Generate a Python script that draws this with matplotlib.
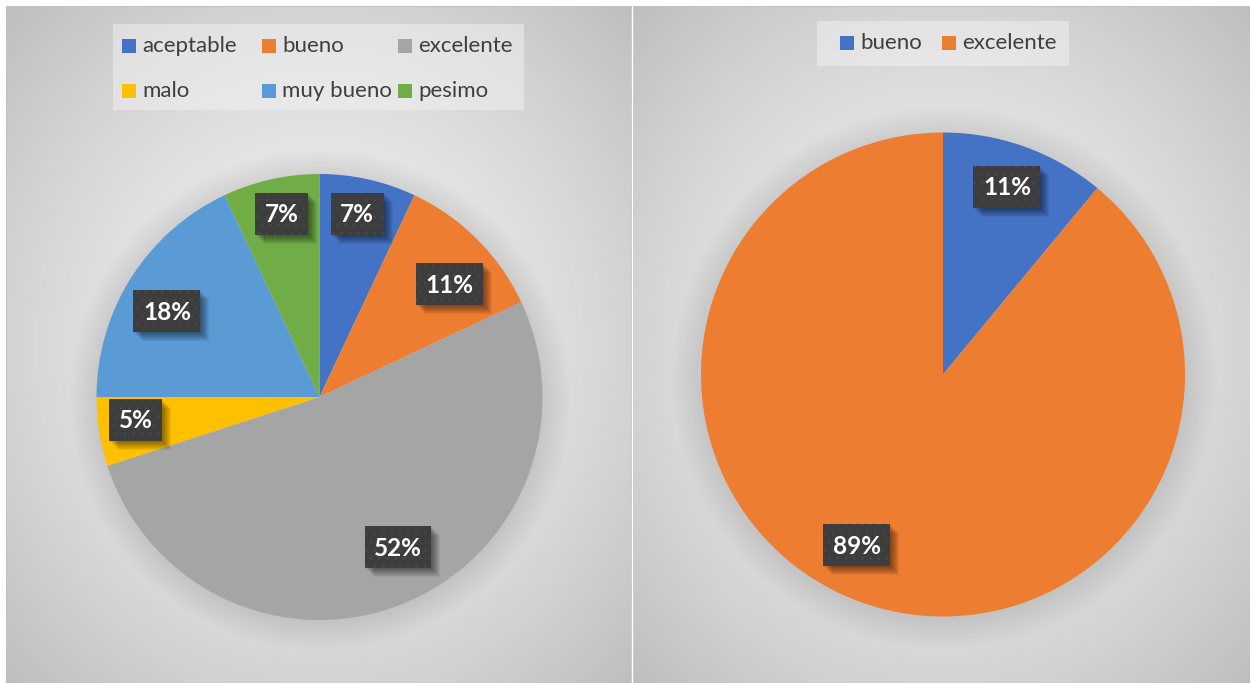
import numpy as np
import matplotlib
matplotlib.use("Agg")
import matplotlib.pyplot as plt
from matplotlib.patches import Rectangle, Circle
from matplotlib import transforms

W, H = 1250, 683
DPI = 100

# --- data -------------------------------------------------------------
left_categories = ["aceptable", "bueno", "excelente", "malo", "muy bueno", "pesimo"]
left_values = [7, 11, 52, 5, 18, 7]
right_categories = ["bueno", "excelente"]
right_values = [11, 89]

# --- style ------------------------------------------------------------
left_colors = ["#4472C4", "#ED7D31", "#A5A5A5", "#FFC000", "#5B9BD5", "#70AD47"]
right_colors = ["#4472C4", "#ED7D31"]
# radial position of each value label (fraction of radius) and angular nudge (deg)
left_label_r = [0.84, 0.77, 0.76, 0.83, 0.785, 0.84]
left_label_dt = [1, -4, 6, -2, 3, -1]
right_label_r = [0.82, 0.79]
right_label_dt = [1, -7]

LABEL_FS = 17.5
plt.rcParams['font.family'] = ['Lato', 'DejaVu Sans']
plt.rcParams['hatch.linewidth'] = 0.6

fig = plt.figure(figsize=(W / DPI, H / DPI), dpi=DPI)

# --- panel backgrounds with radial gradient ----------------------------
bg = np.ones((H, W, 3))
yy, xx = np.mgrid[0:H, 0:W]


def shade_panel(x0, x1, y0, y1):
    cx, cy = (x0 + x1) / 2, (y0 + y1) / 2
    sx = xx[y0:y1, x0:x1]
    sy = yy[y0:y1, x0:x1]
    d = np.sqrt(((sx - cx) / ((x1 - x0) / 2)) ** 2 +
                ((sy - cy) / ((y1 - y0) / 2)) ** 2) / np.sqrt(2)
    v = (242 - 52 * d ** 1.5) / 255
    bg[y0:y1, x0:x1, :] = v[..., None]


shade_panel(6, 632, 6, H)
shade_panel(633, W, 6, H)
bg[6, 6:632] = 0.76
bg[6:, 6] = 0.76
bg[6:, 631] = 0.80
bg[6, 633:] = 0.76
bg[6:, 633] = 0.80

bgax = fig.add_axes([0, 0, 1, 1])
bgax.imshow(bg, aspect='auto', interpolation='nearest', extent=(0, W, H, 0))
bgax.set_xlim(0, W)
bgax.set_ylim(H, 0)
bgax.axis('off')


# --- pies --------------------------------------------------------------
def pie_axes(cx, cy, R, m=1.3):
    ax = fig.add_axes([(cx - m * R) / W, (H - cy - m * R) / H,
                       2 * m * R / W, 2 * m * R / H])
    ax.set_facecolor('none')
    return ax, m


label_items = []  # (axes, text artist, anchor in data coords)


def draw_pie(ax, m, values, colors, label_r, label_dt):
    # soft halo around the disc
    for k in range(12):
        ax.add_patch(Circle((0.004, -0.012), 1.0 + 0.011 * k, facecolor='black',
                            edgecolor='none', alpha=0.009, zorder=0))
    wedges, _ = ax.pie(values, colors=colors, startangle=90, counterclock=False,
                       radius=1, wedgeprops=dict(linewidth=0))
    for w in wedges:
        w.set_zorder(2)
    ax.set_xlim(-m, m)
    ax.set_ylim(-m, m)
    ax.set_aspect('equal', adjustable='box')
    ax.axis('off')

    cap = 0.7165 * LABEL_FS * DPI / 72.0
    for w, v, r, dt in zip(wedges, values, label_r, label_dt):
        th = np.deg2rad((w.theta1 + w.theta2) / 2 + dt)
        x, y = r * np.cos(th), r * np.sin(th)
        tr = transforms.offset_copy(ax.transData, fig=fig, x=0, y=-cap / 2, units='dots')
        t = ax.text(x, y, f"{v}%", transform=tr, ha='center', va='baseline',
                    fontsize=LABEL_FS, fontweight='bold', color='white', zorder=5)
        label_items.append((ax, t, (x, y)))


axl, ml = pie_axes(319.5, 397, 223)
draw_pie(axl, ml, left_values, left_colors, left_label_r, left_label_dt)
axr, mr = pie_axes(943, 374.5, 242)
draw_pie(axr, mr, right_values, right_colors, right_label_r, right_label_dt)

# dark label boxes with a soft drop shadow, sized from the rendered text
fig.canvas.draw()
renderer = fig.canvas.get_renderer()
ident = transforms.IdentityTransform()
BOX_H = 42
for ax, t, (x, y) in label_items:
    tw = t.get_window_extent(renderer).width
    bw = tw + 19
    px, py = ax.transData.transform((x, y))
    x0, y0 = px - bw / 2, py - BOX_H / 2
    for off in range(1, 10):
        ax.add_patch(Rectangle((x0 + off, y0 - off), bw, BOX_H, transform=ident,
                               facecolor='black', edgecolor='none', alpha=0.06, zorder=3))
    ax.add_patch(Rectangle((x0, y0), bw, BOX_H, transform=ident, facecolor='#3d3d3d',
                           edgecolor='#4a4a4a', linewidth=0, hatch='..', zorder=4))

# --- legends (pixel coordinates on an overlay) -------------------------
ov = fig.add_axes([0, 0, 1, 1])
ov.set_xlim(0, W)
ov.set_ylim(H, 0)
ov.axis('off')
ov.set_facecolor('none')


def legend(box, entries, colors, positions):
    x0, y0, x1, y1 = box
    ov.add_patch(Rectangle((x0, y0), x1 - x0, y1 - y0, facecolor='#f6f6f6',
                           edgecolor='none', alpha=0.45))
    for name, c, (px, py) in zip(entries, colors, positions):
        ov.add_patch(Rectangle((px, py - 7), 14, 14, facecolor=c, edgecolor='none'))
        ov.text(px + 20, py, name, ha='left', va='center', fontsize=16, color='#3f3f3f')


left_pos = [(122, 46), (262, 46), (398, 46), (122, 91), (262, 91), (398, 91)]
legend((113, 24, 524, 110), left_categories, left_colors, left_pos)
right_pos = [(840, 43), (942, 43)]
legend((817, 21, 1069, 66), right_categories, right_colors, right_pos)

fig.savefig("out.png", dpi=DPI)
